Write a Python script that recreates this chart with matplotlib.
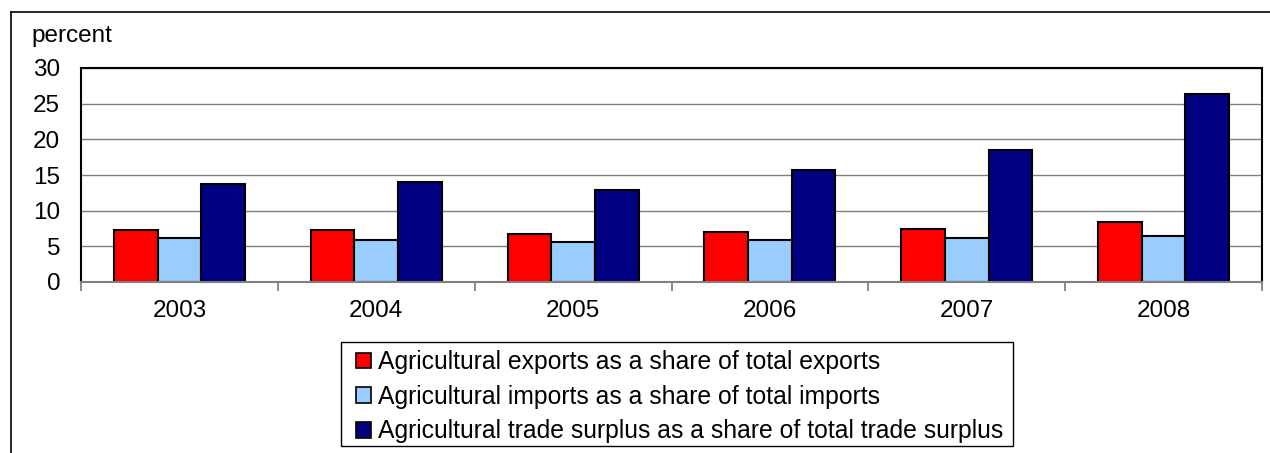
import matplotlib
matplotlib.use("Agg")
import matplotlib.pyplot as plt
import numpy as np
from matplotlib import font_manager as fm
from matplotlib.lines import Line2D
from matplotlib.patches import Rectangle, Patch

years = ["2003", "2004", "2005", "2006", "2007", "2008"]
exports_share = [7.3, 7.3, 6.7, 7.0, 7.5, 8.4]
imports_share = [6.1, 5.9, 5.6, 5.9, 6.2, 6.4]
surplus_share = [13.7, 14.0, 12.9, 15.7, 18.5, 26.4]
series_labels = [
    "Agricultural exports as a share of total exports",
    "Agricultural imports as a share of total imports",
    "Agricultural trade surplus as a share of total trade surplus",
]
series_colors = ["#FF0000", "#99CCFF", "#000080"]
y_ticks = [0, 5, 10, 15, 20, 25, 30]


def first_font(candidates):
    for name in candidates:
        try:
            fm.findfont(fm.FontProperties(family=name), fallback_to_default=False)
            return name
        except Exception:
            continue
    return "DejaVu Sans"


base_font = first_font(["Liberation Sans", "Arial", "DejaVu Sans"])
plt.rcParams["font.family"] = [base_font, "DejaVu Sans"]

W, H = 1270, 453
fig = plt.figure(figsize=(W / 100, H / 100), dpi=100)
fig.patch.set_facecolor("white")

# plot area in pixel coordinates
L, R, T, B = 81, 1262, 68, 282
ax = fig.add_axes([L / W, 1 - B / H, (R - L) / W, (B - T) / H])

x = np.arange(len(years))
bw = 0.222
for i, (vals, col) in enumerate(zip([exports_share, imports_share, surplus_share], series_colors)):
    ax.bar(x + (i - 1) * bw, vals, width=bw, color=col, edgecolor="black",
           linewidth=1.5, zorder=3)

ax.set_xlim(-0.5, len(years) - 0.5)
ax.set_ylim(0, 30)
ax.set_yticks(y_ticks)
ax.set_yticklabels([str(v) for v in y_ticks])
ax.yaxis.grid(True, color="#808080", linewidth=1.0, zorder=0)
ax.set_axisbelow(True)

fs = 17.5
ax.tick_params(axis="y", length=0, pad=15, labelsize=fs, colors="black")
ax.set_xticks(x)
ax.set_xticklabels(years)
ax.tick_params(axis="x", which="major", length=0, pad=13, labelsize=fs)
ax.set_xticks(np.arange(-0.5, len(years), 1.0), minor=True)
ax.tick_params(axis="x", which="minor", length=6.5, width=1.3, color="#808080",
               direction="out")

for side in ["top", "right", "left"]:
    ax.spines[side].set_color("black")
    ax.spines[side].set_linewidth(1.5)
ax.spines["bottom"].set_color("#808080")
ax.spines["bottom"].set_linewidth(1.5)
ax.spines["bottom"].set_zorder(4)

# unit label above the value axis
fig.text(31 / W, 1 - 42 / H, "percent", fontsize=fs, ha="left", va="baseline")

# outer chart frame (left and top edges)
fig.add_artist(Line2D([11 / W, 11 / W], [0, 1 - 12 / H], transform=fig.transFigure,
                      color="black", linewidth=1.2))
fig.add_artist(Line2D([11 / W, 1], [1 - 12 / H, 1 - 12 / H], transform=fig.transFigure,
                      color="black", linewidth=1.2))

# legend
handles = [Patch(facecolor=c, edgecolor="black", linewidth=1.2) for c in series_colors]
leg = fig.legend(handles, series_labels, loc="upper left",
                 bbox_to_anchor=(356 / W, 1 - 350 / H), frameon=False, fontsize=fs,
                 handlelength=0.62, handleheight=0.62, handletextpad=0.3,
                 labelspacing=0.44, borderpad=0, borderaxespad=0)
for t in leg.get_texts():
    t.set_fontsize(17.8)
fig.add_artist(Rectangle((341 / W, 1 - 446 / H), (1013 - 341) / W, (446 - 342) / H,
                         transform=fig.transFigure, facecolor="none",
                         edgecolor="black", linewidth=1.0))

fig.savefig("out.png", dpi=100)
